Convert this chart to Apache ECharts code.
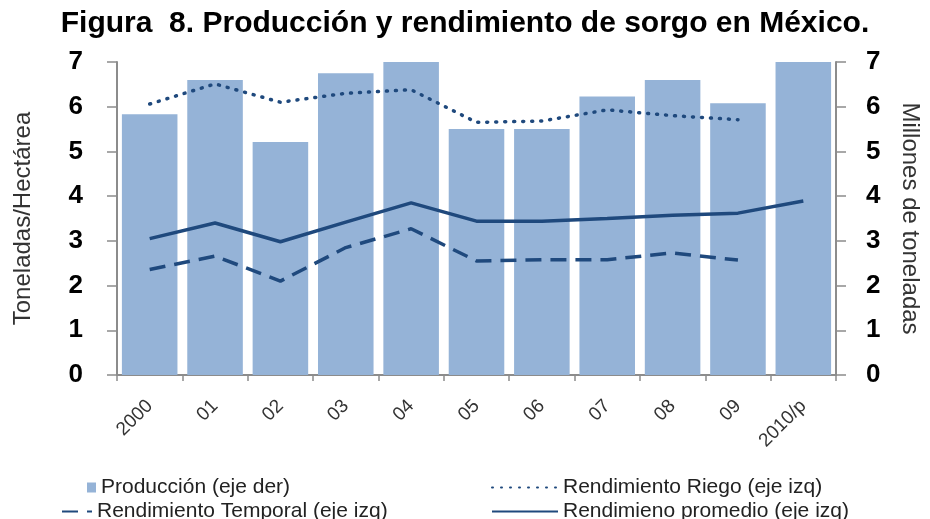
<!DOCTYPE html>
<html>
<head>
<meta charset="utf-8">
<script src="https://cdn.jsdelivr.net/npm/echarts@6/dist/echarts.min.js"></script>
<style>
  html, body { margin: 0; padding: 0; background: #fff; }
  #chart { width: 930px; height: 519px; }
</style>
</head>
<body>
<div id="chart"></div>
<script>
const years = ["2000", "01", "02", "03", "04", "05", "06", "07", "08", "09", "2010/p"];
const produccion = [5.83, 6.6, 5.21, 6.75, 7.0, 5.5, 5.5, 6.23, 6.6, 6.08, 7.0];
const riego = [6.06, 6.51, 6.1, 6.3, 6.38, 5.65, 5.68, 5.93, 5.8, 5.71, null];
const temporal = [2.36, 2.66, 2.1, 2.85, 3.27, 2.55, 2.58, 2.58, 2.73, 2.57, null];
const promedio = [3.05, 3.4, 2.98, 3.42, 3.85, 3.44, 3.44, 3.5, 3.57, 3.62, 3.89];
const yTicks = [0, 1, 2, 3, 4, 5, 6, 7];

const navy = "#1f497d";
const barColor = "#95b3d7";
const font = "'Liberation Sans', Arial, sans-serif";

const chart = echarts.init(document.getElementById("chart"), null, { renderer: "canvas" });

const yAxisBase = {
  type: "value",
  min: yTicks[0],
  max: yTicks[yTicks.length - 1],
  interval: 1,
  splitLine: { show: false },
  axisLine: { show: true, lineStyle: { color: "#8c8c8c", width: 2 } },
  axisTick: { show: true, inside: false, length: 10, lineStyle: { color: "#8c8c8c", width: 1.5 } },
  axisLabel: { color: "#000", fontWeight: "bold", fontSize: 26, fontFamily: font },
  nameLocation: "middle",
  nameTextStyle: { color: "#333", fontSize: 24, fontFamily: font }
};

const legendText = { color: "#222", fontSize: 21, fontFamily: font };
// hide the little circle that line legends draw
const legendBase = { itemHeight: 10, textStyle: legendText, itemStyle: { opacity: 0 } };

chart.setOption({
  animation: false,
  title: {
    text: "Figura  8. Producción y rendimiento de sorgo en México.",
    left: "center",
    top: 4,
    textStyle: { fontSize: 30, fontWeight: "bold", color: "#000", fontFamily: font }
  },
  grid: { left: 117, right: 90, top: 62, bottom: 144 },
  legend: [
    Object.assign({}, legendBase, { left: 82, top: 472, itemWidth: 9, itemGap: 6,
      itemStyle: {}, data: [{ name: "Producción (eje der)", icon: "rect" }] }),
    Object.assign({}, legendBase, { left: 56, top: 496, itemWidth: 30,
      data: ["Rendimiento Temporal (eje izq)"] }),
    Object.assign({}, legendBase, { left: 486, top: 472, itemWidth: 66,
      data: ["Rendimiento Riego (eje izq)"] }),
    Object.assign({}, legendBase, { left: 486, top: 496, itemWidth: 66,
      data: ["Rendimieno promedio (eje izq)"] })
  ],
  xAxis: {
    type: "category",
    data: years,
    boundaryGap: true,
    axisLine: { lineStyle: { color: "#8c8c8c", width: 2 } },
    axisTick: { show: true, length: 6, lineStyle: { color: "#8c8c8c", width: 1.5 } },
    axisLabel: { rotate: 45, interval: 0, color: "#333", fontSize: 19, fontFamily: font, margin: 28 }
  },
  yAxis: [
    Object.assign({}, yAxisBase, {
      position: "left",
      name: "Toneladas/Hectárea",
      nameGap: 82,
      axisLabel: Object.assign({}, yAxisBase.axisLabel, { margin: 34 })
    }),
    Object.assign({}, yAxisBase, {
      position: "right",
      name: "Millones de toneladas",
      nameGap: 62,
      nameRotate: -90,
      axisLabel: Object.assign({}, yAxisBase.axisLabel, { margin: 30 })
    })
  ],
  series: [
    {
      name: "Producción (eje der)",
      type: "bar",
      yAxisIndex: 1,
      data: produccion,
      barCategoryGap: "15%",
      itemStyle: { color: barColor }
    },
    {
      name: "Rendimiento Riego (eje izq)",
      type: "line",
      yAxisIndex: 0,
      data: riego,
      symbol: "none",
      lineStyle: { color: navy, width: 3.5, type: [1, 8], cap: "round" },
      itemStyle: { color: navy }
    },
    {
      name: "Rendimiento Temporal (eje izq)",
      type: "line",
      yAxisIndex: 0,
      data: temporal,
      symbol: "none",
      lineStyle: { color: navy, width: 3.5, type: [16, 9] },
      itemStyle: { color: navy }
    },
    {
      name: "Rendimieno promedio (eje izq)",
      type: "line",
      yAxisIndex: 0,
      data: promedio,
      symbol: "none",
      lineStyle: { color: navy, width: 3.5 },
      itemStyle: { color: navy }
    }
  ]
});
</script>
</body>
</html>
